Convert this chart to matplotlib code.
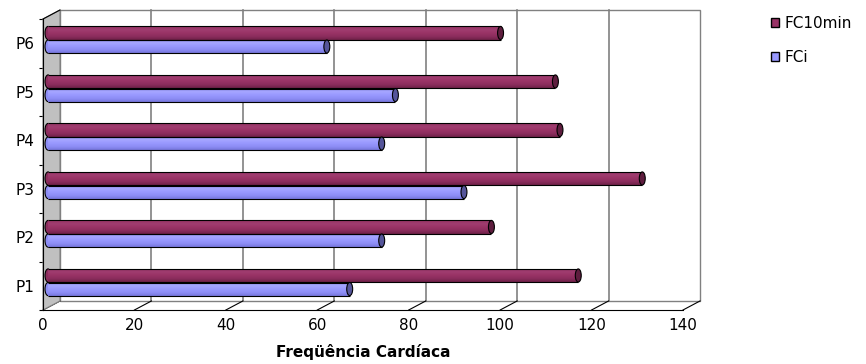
import numpy as np
import matplotlib.pyplot as plt
from matplotlib.patches import Polygon, Ellipse, Patch
from matplotlib.colors import LinearSegmentedColormap

plt.rcParams['font.family'] = ['DejaVu Sans']

# Frequencia cardiaca por paciente
categorias = ['P1', 'P2', 'P3', 'P4', 'P5', 'P6']
fc_i = [66, 73, 91, 73, 76, 61]
fc_10min = [116, 97, 130, 112, 111, 99]
ticks_x = [0, 20, 40, 60, 80, 100, 120, 140]

fig = plt.figure(figsize=(8.66, 3.64), dpi=100)
ax = fig.add_axes([43 / 866, 54 / 364, 640 / 866, 291 / 364])
xmin, xmax, ymin, ymax = 0, 140, -0.5, 5.5
ax.set_xlim(xmin, xmax)
ax.set_ylim(ymin, ymax)
ax.patch.set_visible(False)

# profundidade da caixa 3D (unidades de dados)
DX, DY = 3.72, 0.186
# profundidade das barras dentro da caixa
BX, BY = 1.09, 0.072

# parede do fundo
ax.add_patch(Polygon([(xmin + DX, ymin + DY), (xmax + DX, ymin + DY),
                      (xmax + DX, ymax + DY), (xmin + DX, ymax + DY)],
                     closed=True, fc='white', ec='#808080', lw=1,
                     clip_on=False, zorder=1))
for t in ticks_x[1:-1]:
    ax.plot([t + DX, t + DX], [ymin + DY, ymax + DY], color='#808080',
            lw=1.2, clip_on=False, zorder=1)

# chao: linhas diagonais de cada marca
for t in ticks_x:
    ax.plot([t, t + DX], [ymin, ymin + DY], color='black', lw=0.8,
            clip_on=False, zorder=1.5)

# parede lateral
ax.add_patch(Polygon([(xmin, ymin), (xmin + DX, ymin + DY),
                      (xmin + DX, ymax + DY), (xmin, ymax)],
                     closed=True, fc='#c0c0c0', ec='#808080', lw=0.8,
                     clip_on=False, zorder=2))
ax.plot([xmin, xmin + DX], [ymax, ymax + DY], color='black', lw=0.8,
        clip_on=False, zorder=2)


def cilindro(y, valor, h, cores, cor_tampa):
    cmap = LinearSegmentedColormap.from_list('c', cores)
    barra = ax.barh(y, valor, left=BX, height=h, color=cores[2],
                    lw=0, zorder=3)[0]
    grad = np.linspace(0, 1, 64).reshape(-1, 1)
    im = ax.imshow(grad, extent=[BX, BX + valor, y - h / 2, y + h / 2],
                   origin='lower', aspect='auto', cmap=cmap, zorder=3.1)
    im.set_clip_path(barra)
    ax.hlines([y - h / 2, y + h / 2], BX, BX + valor, color='black',
              lw=0.8, zorder=3.2)
    ax.add_patch(Ellipse((BX, y), 1.3, h, fc=cores[1], ec='black',
                         lw=0.8, zorder=2.9))
    ax.add_patch(Ellipse((BX + valor, y), 1.3, h, fc=cor_tampa,
                         ec='black', lw=0.8, zorder=3.3))


cores_10 = ['#6e2148', '#8c2d5d', '#993366', '#a03d70', '#933262']
cores_i = ['#7777dd', '#8d8df5', '#9999ff', '#a6a6ff', '#9494fa']
h = 0.27
for i in range(len(categorias)):
    cilindro(i + BY + 0.14, fc_10min[i], h, cores_10, '#5e1d3e')
    cilindro(i + BY - 0.14, fc_i[i], h, cores_i, '#55559a')

ax.set_xlim(xmin, xmax)
ax.set_ylim(ymin, ymax)

# eixos frontais
for s in ['top', 'right']:
    ax.spines[s].set_visible(False)
ax.spines['left'].set_color('black')
ax.spines['bottom'].set_color('black')
ax.spines['left'].set_zorder(4)
ax.spines['bottom'].set_zorder(4)
ax.set_xticks(ticks_x)
ax.set_xticklabels([str(t) for t in ticks_x], fontsize=11)
ax.tick_params(axis='x', length=0, pad=6)
ax.set_yticks(range(len(categorias)))
ax.set_yticklabels(categorias, fontsize=11)
ax.tick_params(axis='y', which='major', length=0, pad=6)
ax.set_yticks(np.arange(ymin, ymax + 0.1, 1), minor=True)
ax.tick_params(axis='y', which='minor', length=3, width=0.8, direction='out')

ax.set_xlabel('Freqüência Cardíaca', fontsize=11, fontweight='bold',
              labelpad=8)

fig.legend(handles=[Patch(fc='#993366', ec='black'),
                    Patch(fc='#9999ff', ec='black')],
           labels=['FC10min', 'FCi'], loc='upper left',
           bbox_to_anchor=(771 / 866, 1 - 16 / 364), frameon=False,
           fontsize=11, handlelength=0.55, handleheight=0.55,
           handletextpad=0.35, labelspacing=1.25, borderpad=0,
           borderaxespad=0)

fig.savefig('out.png', dpi=100)
